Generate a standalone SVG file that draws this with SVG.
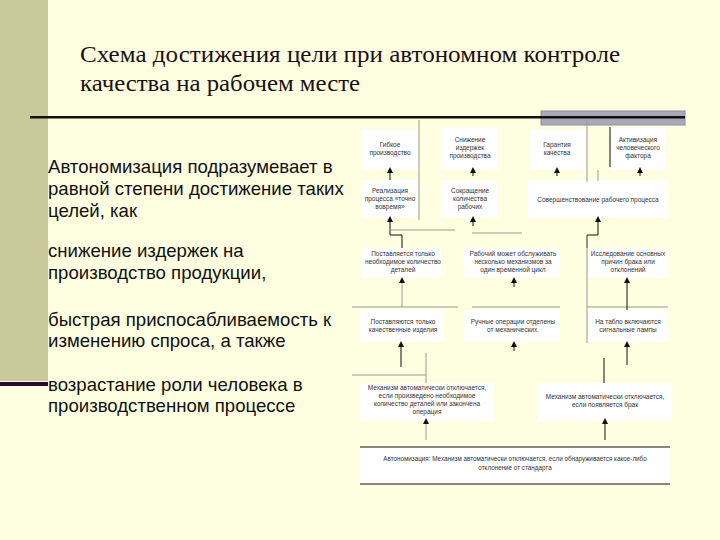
<svg xmlns="http://www.w3.org/2000/svg" width="720" height="540" viewBox="0 0 720 540">
<defs>
<style>
.title{font-family:"Liberation Serif","DejaVu Serif","Times New Roman",serif;font-size:24px;fill:#1a1010}
.body{font-family:"Liberation Sans",Arial,sans-serif;font-size:18.6px;fill:#111}
.box{fill:#ffffff}
.t{font-family:"Liberation Sans",Arial,sans-serif;font-size:6.5px;fill:#333;text-anchor:middle}
.g{stroke:#999;stroke-width:1;fill:none}
.k{stroke:#111;stroke-width:1;fill:none}
</style>
<marker id="ah" markerWidth="6" markerHeight="6" refX="3" refY="3" orient="auto" markerUnits="userSpaceOnUse">
<path d="M0,0 L6,3 L0,6 z" fill="#111"/>
</marker>
</defs>
<rect width="720" height="540" fill="#FEFEE0"/>
<rect x="0" y="0" width="48" height="381" fill="#C9C99B"/>
<rect x="0" y="382" width="48" height="4" fill="#2A0A30"/>
<rect x="541" y="111" width="144" height="14" fill="#A9A7BA" stroke="#8E8C9E" stroke-width="1"/>
<rect x="30" y="116" width="655" height="2.5" fill="#111"/>
<text class="title" x="80" y="62" textLength="540" lengthAdjust="spacingAndGlyphs">Схема достижения цели при автономном контроле</text>
<text class="title" x="80" y="91" textLength="280" lengthAdjust="spacingAndGlyphs">качества на рабочем месте</text>
<g id="left-text" class="body">
<text x="48" y="173">Автономизация подразумевает в</text>
<text x="48" y="195">равной степени достижение таких</text>
<text x="48" y="217">целей, как</text>
<text x="48" y="257">снижение издержек на</text>
<text x="48" y="279">производство продукции,</text>
<text x="48" y="326">быстрая приспосабливаемость к</text>
<text x="48" y="347">изменению спроса, а также</text>
<text x="48" y="391">возрастание роли человека в</text>
<text x="48" y="412">производственном процессе</text>
</g>
<g id="n-a1"><rect class="box" x="362" y="130" width="56" height="40"/><text class="t" x="390" y="147">Гибкое</text><text class="t" x="390" y="155">производство</text></g>
<g id="n-b1"><rect class="box" x="442" y="128" width="56" height="42"/><text class="t" x="470" y="142">Снижение</text><text class="t" x="470" y="150">издержек</text><text class="t" x="470" y="158">производства</text></g>
<g id="n-c1"><rect class="box" x="530" y="130" width="55" height="40"/><text class="t" x="557" y="147">Гарантия</text><text class="t" x="557" y="155">качества</text></g>
<g id="n-d1"><rect class="box" x="612" y="128" width="53" height="42"/><text class="t" x="638" y="142">Активизация</text><text class="t" x="638" y="150">человеческого</text><text class="t" x="638" y="158">фактора</text></g>
<g id="n-a2"><rect class="box" x="362" y="180" width="56" height="38"/><text class="t" x="390" y="193">Реализация</text><text class="t" x="390" y="201">процесса «точно</text><text class="t" x="390" y="209">вовремя»</text></g>
<g id="n-b2"><rect class="box" x="442" y="180" width="56" height="38"/><text class="t" x="470" y="193">Сокращение</text><text class="t" x="470" y="201">количества</text><text class="t" x="470" y="209">рабочих</text></g>
<g id="n-c2"><rect class="box" x="528" y="180" width="140" height="38"/><text class="t" x="598" y="202">Совершенствование рабочего процесса</text></g>
<g id="n-a3"><rect class="box" x="362" y="248" width="80" height="30"/><text class="t" x="403" y="256">Поставляется только</text><text class="t" x="403" y="264">необходимое количество</text><text class="t" x="403" y="272">деталей</text></g>
<g id="n-b3"><rect class="box" x="463" y="248" width="97" height="30"/><text class="t" x="513" y="256">Рабочий может обслуживать</text><text class="t" x="513" y="264">несколько механизмов за</text><text class="t" x="513" y="272">один временной цикл</text></g>
<g id="n-c3"><rect class="box" x="588" y="248" width="80" height="30"/><text class="t" x="628" y="256">Исследование основных</text><text class="t" x="628" y="264">причин брака или</text><text class="t" x="628" y="272">отклонений</text></g>
<g id="n-a4"><rect class="box" x="360" y="310" width="84" height="32"/><text class="t" x="403" y="324">Поставляются только</text><text class="t" x="403" y="332">качественные изделия</text></g>
<g id="n-b4"><rect class="box" x="463" y="310" width="97" height="32"/><text class="t" x="513" y="324">Ручные операции отделены</text><text class="t" x="513" y="332">от механических.</text></g>
<g id="n-c4"><rect class="box" x="588" y="310" width="80" height="32"/><text class="t" x="628" y="324">На табло включаются</text><text class="t" x="628" y="332">сигнальные лампы</text></g>
<g id="n-a5"><rect class="box" x="360" y="383" width="134" height="38"/><text class="t" x="427" y="390">Механизм автоматически отключается,</text><text class="t" x="427" y="398">если произведено необходимое</text><text class="t" x="427" y="406">количество деталей или закончена</text><text class="t" x="427" y="414">операция</text></g>
<g id="n-b5"><rect class="box" x="538" y="383" width="134" height="38"/><text class="t" x="605" y="399">Механизм автоматически отключается,</text><text class="t" x="605" y="407">если появляется брак</text></g>
<g id="n-bottom"><rect class="box" x="360" y="447" width="310" height="37"/><line class="k" x1="360" y1="447" x2="670" y2="447"/><line class="k" x1="360" y1="484" x2="670" y2="484"/><text class="t" x="515" y="461" style="font-size:6.3px">Автономизация: Механизм автоматически отключается, если обнаруживается какое-либо</text><text class="t" x="515" y="470" style="font-size:6.3px">отклонение от стандарта</text></g>
<g id="connectors">
<line class="g" x1="419" y1="120" x2="419" y2="220"/>
<line class="g" x1="587" y1="120" x2="587" y2="182"/>
<line class="k" x1="610" y1="127" x2="610" y2="167"/>
<line class="g" x1="598" y1="170" x2="598" y2="181"/>
<line class="k" x1="390" y1="180" x2="390" y2="170" marker-end="url(#ah)"/>
<line class="k" x1="473" y1="176" x2="473" y2="170" marker-end="url(#ah)"/>
<line class="k" x1="557" y1="176" x2="557" y2="170" marker-end="url(#ah)"/>
<line class="k" x1="640" y1="176" x2="640" y2="170" marker-end="url(#ah)"/>
<path class="k" d="M402,248 V235 H390 V219" marker-end="url(#ah)"/>
<line class="g" x1="390" y1="230" x2="455" y2="230"/>
<line class="k" x1="473" y1="226" x2="473" y2="219" marker-end="url(#ah)"/>
<line class="g" x1="472" y1="233" x2="522" y2="233"/>
<path class="k" d="M587,248 V235 H598 V219" marker-end="url(#ah)"/>
<line class="g" x1="587" y1="235" x2="587" y2="343"/>
<line class="g" x1="352" y1="307" x2="458" y2="307"/>
<line class="g" x1="472" y1="307" x2="560" y2="307"/>
<line class="g" x1="587" y1="307" x2="668" y2="307"/>
<line class="g" x1="402" y1="307" x2="402" y2="280" marker-end="url(#ah)"/>
<line class="k" x1="514" y1="287" x2="514" y2="280" marker-end="url(#ah)"/>
<line class="k" x1="627" y1="310" x2="627" y2="280" marker-end="url(#ah)"/>
<line class="k" x1="401" y1="367" x2="401" y2="344" marker-end="url(#ah)"/>
<line class="k" x1="514" y1="351" x2="514" y2="344" marker-end="url(#ah)"/>
<line class="k" x1="627" y1="365" x2="627" y2="344" marker-end="url(#ah)"/>
<line class="g" x1="352" y1="375" x2="426" y2="375"/>
<line class="g" x1="426" y1="353" x2="426" y2="383"/>
<line class="k" x1="604" y1="358" x2="604" y2="383"/>
<line class="g" x1="426" y1="440" x2="426" y2="421" marker-end="url(#ah)"/>
<line class="k" x1="605" y1="440" x2="605" y2="421" marker-end="url(#ah)"/>
</g>
</svg>
